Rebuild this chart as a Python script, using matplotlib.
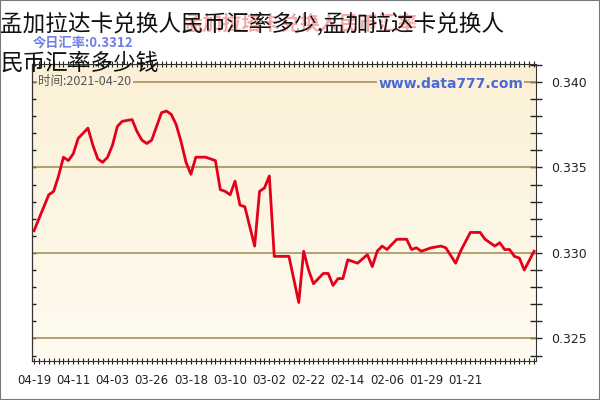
import numpy as np
import pandas as pd
import matplotlib.pyplot as plt
import matplotlib.dates as mdates
from matplotlib.ticker import MultipleLocator
from matplotlib.colors import LinearSegmentedColormap
from matplotlib.patches import Rectangle

plt.rcParams['font.family'] = ['Noto Sans CJK SC', 'DejaVu Sans']

title = "孟加拉达卡兑换人民币汇率多少,孟加拉达卡兑换人\n民币汇率多少钱"

# daily BDT -> CNY rate, 2021
dates = ["2021-01-07", "2021-01-09", "2021-01-10", "2021-01-11", "2021-01-12", "2021-01-13", "2021-01-14",
         "2021-01-15", "2021-01-17", "2021-01-18", "2021-01-19", "2021-01-20", "2021-01-22", "2021-01-23",
         "2021-01-25", "2021-01-26", "2021-01-28", "2021-01-29", "2021-01-30", "2021-01-31",
         "2021-02-01", "2021-02-02", "2021-02-04", "2021-02-06", "2021-02-07", "2021-02-08", "2021-02-09",
         "2021-02-10", "2021-02-12", "2021-02-13", "2021-02-14", "2021-02-15", "2021-02-16", "2021-02-17",
         "2021-02-18", "2021-02-19", "2021-02-21", "2021-02-22", "2021-02-23", "2021-02-24", "2021-02-26",
         "2021-02-28",
         "2021-03-01", "2021-03-02", "2021-03-03", "2021-03-04", "2021-03-05", "2021-03-07", "2021-03-08",
         "2021-03-09", "2021-03-10", "2021-03-11", "2021-03-12", "2021-03-13", "2021-03-14", "2021-03-15",
         "2021-03-16", "2021-03-17", "2021-03-18", "2021-03-19", "2021-03-20", "2021-03-21", "2021-03-22",
         "2021-03-23", "2021-03-24", "2021-03-26", "2021-03-27", "2021-03-28", "2021-03-29", "2021-03-30",
         "2021-04-01", "2021-04-02", "2021-04-03", "2021-04-04", "2021-04-05", "2021-04-06", "2021-04-07",
         "2021-04-08", "2021-04-10", "2021-04-11", "2021-04-12", "2021-04-13", "2021-04-14", "2021-04-15",
         "2021-04-16", "2021-04-17", "2021-04-19"]
rates = [0.3301, 0.3290, 0.3297, 0.3298, 0.3302, 0.3302, 0.3306, 0.3304, 0.3308, 0.3312,
         0.3312, 0.3312, 0.3301, 0.3294, 0.3303, 0.3304, 0.3303, 0.3302, 0.3301, 0.3303,
         0.3302, 0.3308, 0.3308, 0.3302, 0.3304, 0.3301, 0.3292, 0.3299, 0.3294, 0.3295,
         0.3296, 0.3285, 0.3285, 0.3281, 0.3288, 0.3288, 0.3282, 0.3290, 0.3301, 0.3271,
         0.3298, 0.3298,
         0.3298, 0.3345, 0.3338, 0.3336, 0.3304, 0.3327, 0.3328, 0.3342, 0.3334, 0.3336,
         0.3337, 0.3354, 0.3355, 0.3356, 0.3356, 0.3356, 0.3346, 0.3353, 0.3365, 0.3375,
         0.3381, 0.3383, 0.3382, 0.3366, 0.3364, 0.3366, 0.3371, 0.3378,
         0.3377, 0.3374, 0.3363, 0.3356, 0.3353, 0.3355, 0.3363, 0.3373, 0.3367, 0.3358,
         0.3354, 0.3356, 0.3345, 0.3336, 0.3334, 0.3327, 0.3313]

tick_dates = ["2021-01-21", "2021-01-29", "2021-02-06", "2021-02-14", "2021-02-22", "2021-03-02",
              "2021-03-10", "2021-03-18", "2021-03-26", "2021-04-03", "2021-04-11", "2021-04-19"]
tick_labels = ["01-21", "01-29", "02-06", "02-14", "02-22", "03-02",
               "03-10", "03-18", "03-26", "04-03", "04-11", "04-19"]
y_ticks = [0.325, 0.330, 0.335, 0.340]

fig = plt.figure(figsize=(6, 4), dpi=100)
rect = [32 / 600, 1 - 361 / 400, (535.5 - 32) / 600, (361 - 64) / 400]

# cream gradient behind the plot
bg = fig.add_axes(rect, zorder=0)
cmap = LinearSegmentedColormap.from_list("cream", ["#fffbf1", "#fbf0d6"])
bg.imshow(np.linspace(0, 1, 100).reshape(-1, 1), cmap=cmap, aspect='auto',
          origin='lower', extent=[0, 1, 0, 1])
bg.axis('off')

ax = fig.add_axes(rect, zorder=1)
ax.patch.set_alpha(0)

x = pd.to_datetime(dates)
for yv in y_ticks:
    ax.axhline(yv, color='#9e8a50', lw=1.1, zorder=2)
ax.plot(x, rates, color='#e3001b', lw=2, zorder=3)

# time runs right-to-left in the reference
ax.set_xlim(pd.Timestamp("2021-04-19") + pd.Timedelta(hours=10),
            pd.Timestamp("2021-01-07") - pd.Timedelta(hours=7))
ax.set_ylim(0.32368, 0.34105)

ax.yaxis.tick_right()
ax.set_yticks(y_ticks)
ax.set_yticklabels([f"{v:.3f}" for v in y_ticks], family='DejaVu Sans')
ax.yaxis.set_minor_locator(MultipleLocator(0.001))
ax.tick_params(axis='y', which='both', direction='inout', length=8, width=1,
               right=True, left=False, labelsize=9, pad=7, colors='#222')

sec = ax.secondary_yaxis('left')
sec.set_yticks(y_ticks)
sec.set_yticklabels([])
sec.yaxis.set_minor_locator(MultipleLocator(0.001))
sec.tick_params(which='both', direction='in', length=3, width=1, colors='#222')

ax.set_xticks(pd.to_datetime(tick_dates))
ax.set_xticklabels(tick_labels, family='DejaVu Sans')
ax.xaxis.set_minor_locator(mdates.DayLocator())
ax.tick_params(axis='x', which='both', direction='inout', length=5, width=0.8,
               top=True, bottom=True, labelsize=8.5, pad=7, colors='#222')

for s in ax.spines.values():
    s.set_color('#333')

# watermarks
fig.text(300 / 600, 1 - 24 / 400, "孟加拉塔卡兑换人民币汇率", color='#ee5555', alpha=0.5,
         fontsize=14, fontweight='bold', ha='center', va='center')
fig.text(33 / 600, 1 - 43 / 400, "今日汇率:0.3312", color='#6f7fe6', fontsize=9.5,
         fontweight='bold', ha='left', va='center')
fig.text(38 / 600, 1 - 82 / 400, "时间:2021-04-20", color='#555555', fontsize=9,
         ha='left', va='center', bbox=dict(facecolor='#fbf1d9', edgecolor='none', pad=1))
fig.text(523 / 600, 1 - 84 / 400, "www.data777.com", color='#4a6ad8', fontsize=10,
         fontweight='bold', ha='right', va='center', family='DejaVu Sans',
         bbox=dict(facecolor='#fbf1d9', edgecolor='none', pad=1))

fig.text(0, 1 - 12 / 400, title, fontsize=16.3, va='top', ha='left', linespacing=1.9, color='#111')

fig.add_artist(Rectangle((0, 0), 1, 1, transform=fig.transFigure, fill=False,
                         edgecolor='#777777', lw=1.5))

fig.savefig("out.png", dpi=100)
